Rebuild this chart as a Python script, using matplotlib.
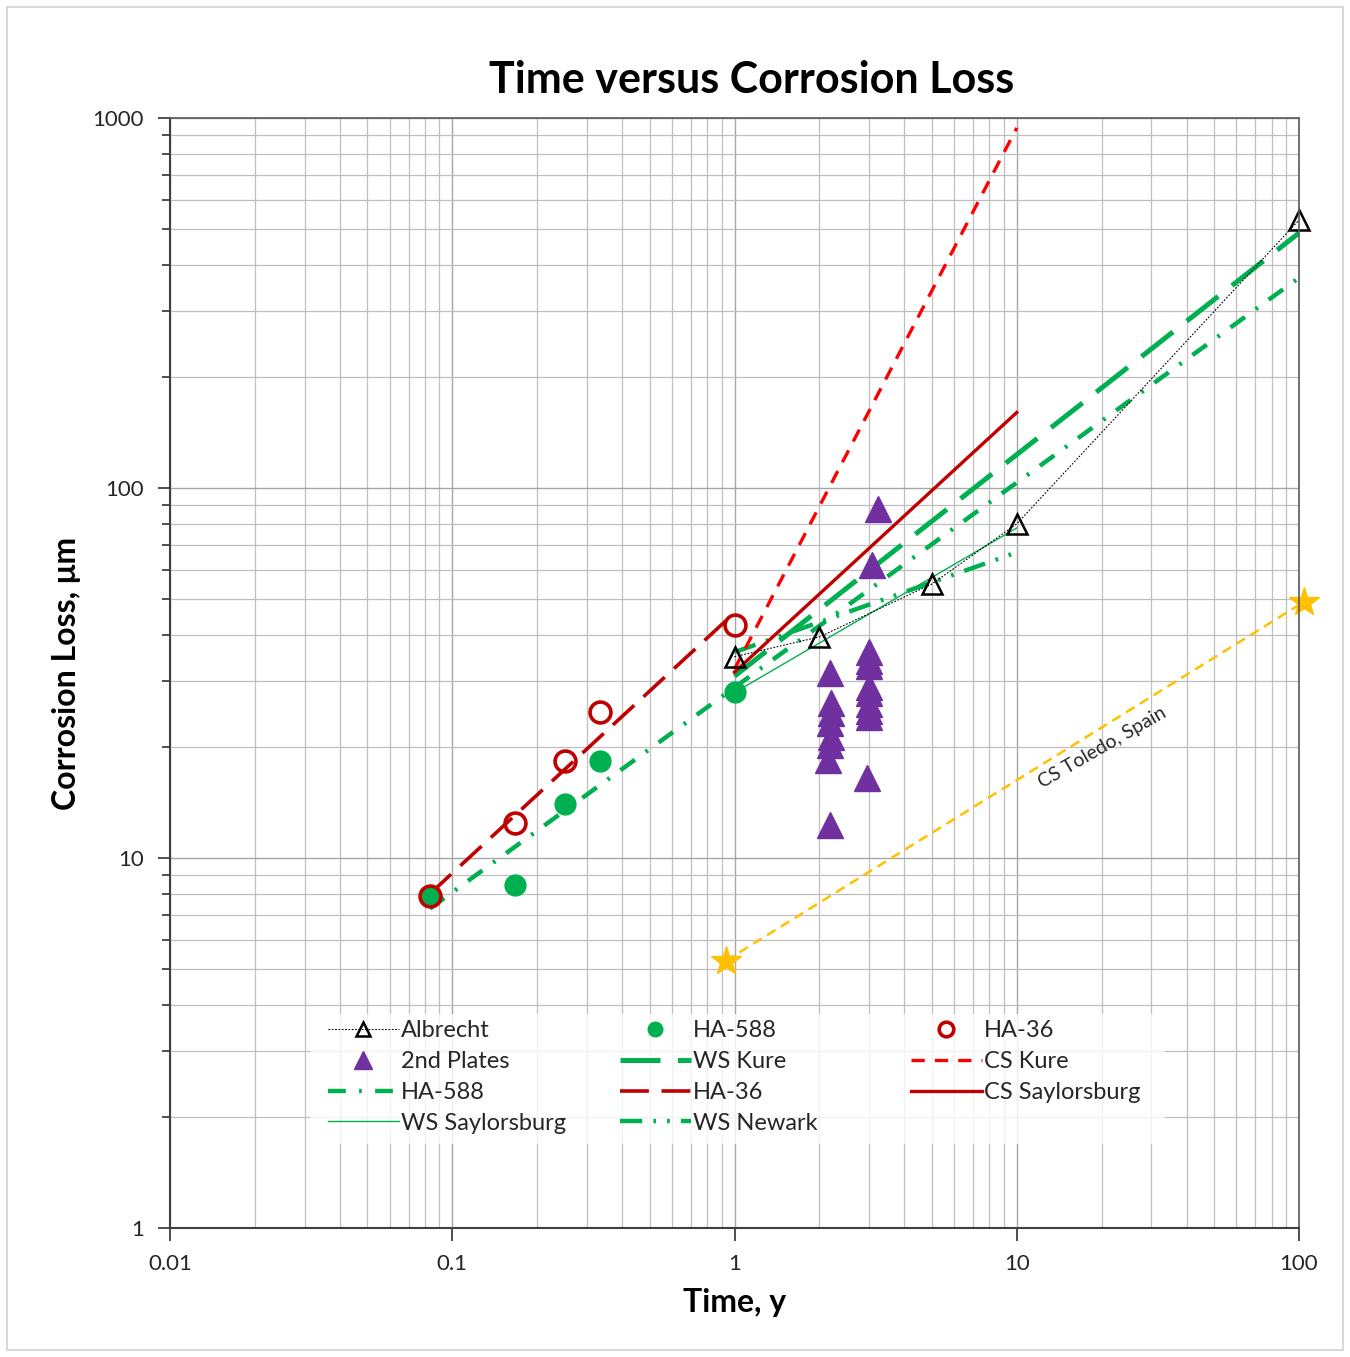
import matplotlib
matplotlib.use("Agg")
import matplotlib.pyplot as plt
from matplotlib.ticker import LogLocator, FixedLocator, FixedFormatter, NullFormatter
from matplotlib.patches import Rectangle

plt.rcParams['font.family'] = ['Lato', 'DejaVu Sans']

# ---------------- data ----------------
albrecht_t = [1, 2, 5, 10, 100]
albrecht_c = [35, 39.6, 55, 80, 530]

ha588_t = [0.0833, 0.167, 0.25, 0.333, 1]
ha588_c = [7.9, 8.45, 14, 18.3, 28.1]

ha36_t = [0.0833, 0.167, 0.25, 0.333, 1]
ha36_c = [7.9, 12.4, 18.3, 24.8, 42.6]

plates_t = [3.22, 3.07, 3.0, 3.0, 3.0, 3.0, 3.0, 3.0, 3.0, 3.0, 2.95,
            2.18, 2.2, 2.2, 2.18, 2.2, 2.18, 2.15, 2.18]
plates_c = [88, 62, 36, 34, 33, 29, 28, 26, 25, 24, 16.5,
            31.6, 26.3, 24.6, 23.2, 21.2, 20.2, 18.4, 12.3]

ws_kure_t = [1, 100]
ws_kure_c = [31, 489]

ha588_fit_t = [0.0833, 100]
ha588_fit_c = [7.3, 370]

ha36_fit_t = [0.0833, 1]
ha36_fit_c = [8.0, 46]

cs_kure_t = [1, 10]
cs_kure_c = [32.4, 940]

cs_saylor_t = [1, 10]
cs_saylor_c = [31.8, 160]

ws_saylor_t = [1, 10]
ws_saylor_c = [28, 78]

ws_newark_t = [1, 10]
ws_newark_c = [36, 67]

toledo_t = [0.93, 104]
toledo_c = [5.27, 49.2]

xticks = [0.01, 0.1, 1, 10, 100]
xtick_labels = ['0.01', '0.1', '1', '10', '100']
yticks = [1, 10, 100, 1000]
ytick_labels = ['1', '10', '100', '1000']

# ---------------- colours ----------------
GREEN = '#00B050'
DRED = '#C00000'
RED = '#FF0000'
PURPLE = '#7030A0'
GOLD = '#FFC000'

W, H = 1350, 1357
AX_L, AX_R, AX_T, AX_B = 170, 1299, 118, 1228

fig = plt.figure(figsize=(W / 100, H / 100), dpi=100)
fig.patches.append(Rectangle((7 / W, 7 / H), 1 - 14 / W, 1 - 14 / H,
                             transform=fig.transFigure, fill=False,
                             edgecolor='#d9d9d9', linewidth=1.5))
ax = fig.add_axes([AX_L / W, (H - AX_B) / H, (AX_R - AX_L) / W, (AX_B - AX_T) / H])
ax.set_xscale('log')
ax.set_yscale('log')
ax.set_xlim(0.01, 100)
ax.set_ylim(1, 1000)


def axx(px):
    return (px - AX_L) / (AX_R - AX_L)


def axy(py):
    return (AX_B - py) / (AX_B - AX_T)


ax.grid(True, which='major', color='#a6a6a6', linewidth=1.0)
ax.grid(True, which='minor', color='#bfbfbf', linewidth=0.9)
ax.set_axisbelow(True)

# lines
l_ha588, = ax.plot(ha588_fit_t, ha588_fit_c, color=GREEN, lw=3.2,
                   dashes=(4, 3, 0.6, 3), label='HA-588')
l_wsnew, = ax.plot(ws_newark_t, ws_newark_c, color=GREEN, lw=3.2,
                   dashes=(5, 2.5, 0.6, 2.5, 0.6, 2.5), label='WS Newark')
l_wskure, = ax.plot(ws_kure_t, ws_kure_c, color=GREEN, lw=3.6,
                    dashes=(8, 3.5), label='WS Kure')
l_wssay, = ax.plot(ws_saylor_t, ws_saylor_c, color=GREEN, lw=1.0,
                   label='WS Saylorsburg')
l_ha36, = ax.plot(ha36_fit_t, ha36_fit_c, color=DRED, lw=2.6,
                  dashes=(8, 3.5), label='HA-36')
l_cskure, = ax.plot(cs_kure_t, cs_kure_c, color=RED, lw=2.4,
                    dashes=(4, 3), label='CS Kure')
l_cssay, = ax.plot(cs_saylor_t, cs_saylor_c, color=DRED, lw=2.4,
                   label='CS Saylorsburg')

ax.plot(toledo_t, toledo_c, color=GOLD, lw=1.8, dashes=(4, 2.5),
        marker='*', markersize=22, markerfacecolor=GOLD,
        markeredgecolor=GOLD, clip_on=False)

# markers
s_plates, = ax.plot(plates_t, plates_c, linestyle='none', marker='^',
                    markersize=19, color=PURPLE, label='2nd Plates')
s_ha588, = ax.plot(ha588_t, ha588_c, linestyle='none', marker='o',
                   markersize=15, color=GREEN, label='HA-588')
s_ha36, = ax.plot(ha36_t, ha36_c, linestyle='none', marker='o',
                  markersize=15, markerfacecolor='none',
                  markeredgecolor=DRED, markeredgewidth=2.6, label='HA-36')
s_alb, = ax.plot(albrecht_t, albrecht_c, color='black', lw=0.8,
                 linestyle=(0, (1.5, 1.5)), marker='^', markersize=15,
                 markerfacecolor='none', markeredgecolor='black',
                 markeredgewidth=1.8, label='Albrecht', clip_on=False)

ax.text(axx(1102), axy(748), 'CS Toledo, Spain', rotation=30,
        fontsize=14, ha='center', va='center', color='#262626',
        transform=ax.transAxes)

# ticks
ax.xaxis.set_major_locator(FixedLocator(xticks))
ax.xaxis.set_major_formatter(FixedFormatter(xtick_labels))
ax.yaxis.set_major_locator(FixedLocator(yticks))
ax.yaxis.set_major_formatter(FixedFormatter(ytick_labels))
ax.xaxis.set_minor_locator(LogLocator(base=10, subs=range(2, 10)))
ax.yaxis.set_minor_locator(LogLocator(base=10, subs=range(2, 10)))
ax.xaxis.set_minor_formatter(NullFormatter())
ax.yaxis.set_minor_formatter(NullFormatter())
ax.tick_params(axis='both', which='major', direction='out', length=9,
               width=1.3, color='#404040', labelsize=16, labelcolor='#262626')
ax.tick_params(axis='x', which='major', pad=10)
ax.tick_params(axis='y', which='major', pad=10)
ax.tick_params(axis='y', which='minor', direction='out', length=6,
               width=1.3, color='#404040')
ax.tick_params(axis='x', which='minor', length=0)
for side in ['left', 'bottom']:
    ax.spines[side].set_color('#404040')
    ax.spines[side].set_linewidth(1.5)
for side in ['top', 'right']:
    ax.spines[side].set_color('#595959')
    ax.spines[side].set_linewidth(1.2)

ax.set_xlabel('Time, y', fontsize=23, fontweight='bold', labelpad=10)
ax.set_ylabel('Corrosion Loss, μm', fontsize=23, fontweight='bold', labelpad=8)
fig.text(752 / W, 1 - 80 / H, 'Time versus Corrosion Loss', fontsize=31,
         fontweight='bold', ha='center', va='center')

# legend background
ax.add_patch(Rectangle((axx(310), axy(1144)), axx(1165) - axx(310),
                       axy(1014) - axy(1144), transform=ax.transAxes,
                       facecolor='white', alpha=0.8, edgecolor='none',
                       zorder=4))

cols = [
    ([s_alb, s_plates, l_ha588, l_wssay],
     ['Albrecht', '2nd Plates', 'HA-588', 'WS Saylorsburg'], 328),
    ([s_ha588, l_wskure, l_ha36, l_wsnew],
     ['HA-588', 'WS Kure', 'HA-36', 'WS Newark'], 620),
    ([s_ha36, l_cskure, l_cssay],
     ['HA-36', 'CS Kure', 'CS Saylorsburg'], 911),
]
legs = []
for hs, ls, xp in cols:
    lg = ax.legend(hs, ls, loc='upper left',
                   bbox_to_anchor=(axx(xp), axy(1020)),
                   fontsize=17, frameon=False, handlelength=3.0,
                   handletextpad=0.1, labelspacing=0.42, markerscale=0.7,
                   borderpad=0, borderaxespad=0)
    for txt in lg.get_texts():
        txt.set_color('#262626')
    lg.set_zorder(5)
    legs.append(lg)
for lg in legs[:-1]:
    ax.add_artist(lg)

fig.savefig('out.png', dpi=100)
